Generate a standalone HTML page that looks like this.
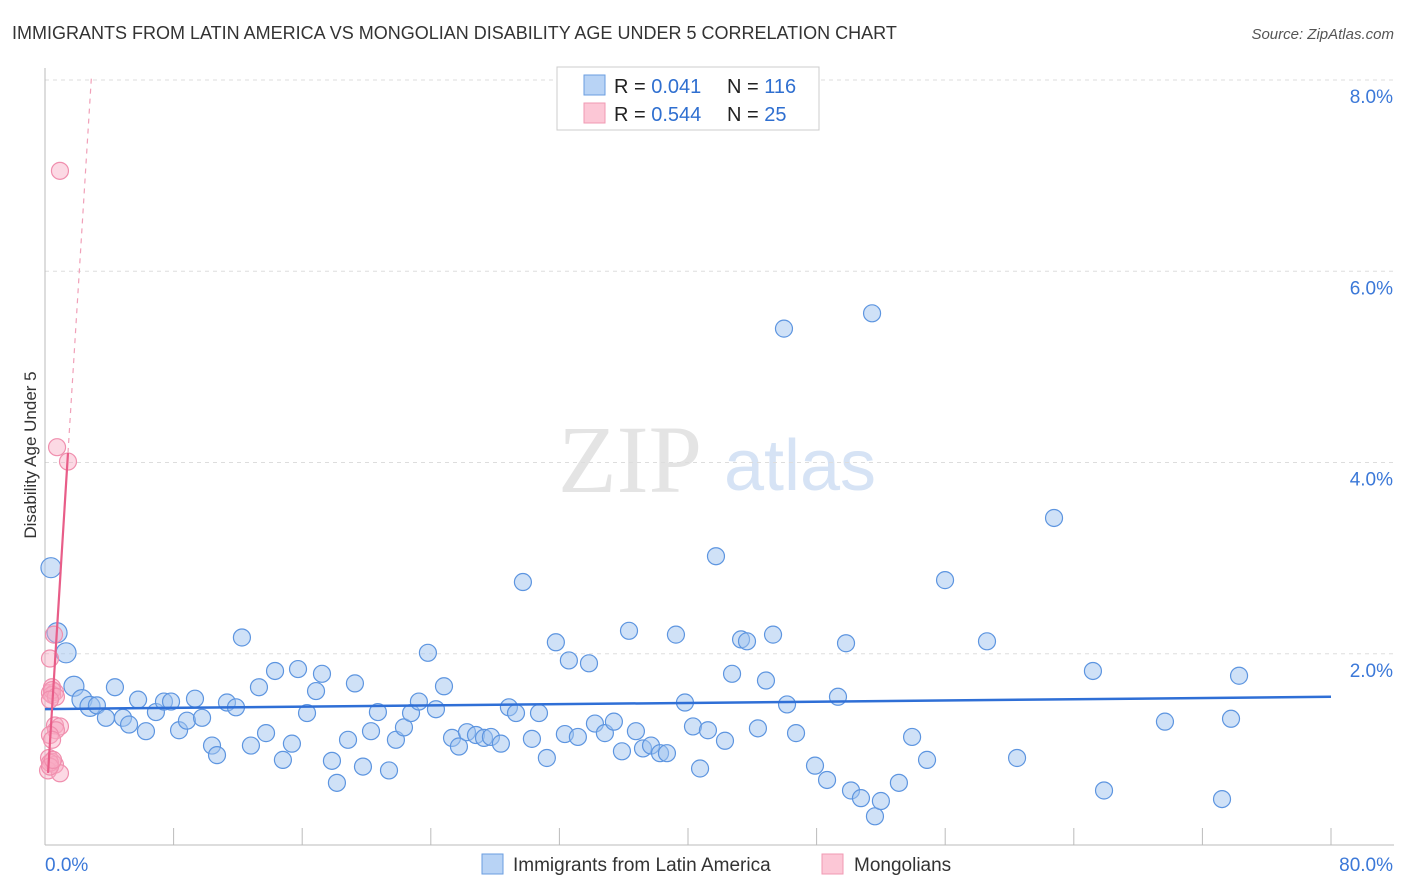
<!DOCTYPE html>
<html><head><meta charset="utf-8"><style>
body{margin:0;background:#fff;font-family:"Liberation Sans",sans-serif;}
#wrap{position:relative;width:1406px;height:892px;overflow:hidden;}
</style></head><body>
<div id="wrap">
<svg id="svg" width="1406" height="892">
<text x="12" y="39" font-size="18" fill="#333">IMMIGRANTS FROM LATIN AMERICA VS MONGOLIAN DISABILITY AGE UNDER 5 CORRELATION CHART</text>
<text x="1394" y="39" font-size="15" fill="#555" font-style="italic" text-anchor="end">Source: ZipAtlas.com</text>
<text x="36" y="455" font-size="17" fill="#333" text-anchor="middle" transform="rotate(-90 36 455)">Disability Age Under 5</text>
<text x="630" y="492" font-size="96" fill="#e4e4e4" font-family="Liberation Serif,serif" text-anchor="middle">ZIP</text>
<text x="800" y="490" font-size="72" fill="#d6e3f5" text-anchor="middle">atlas</text>
<g id="grid"></g><g id="axes"></g><g id="pts"></g><g id="lines"></g>
<g>
<rect x="557" y="67" width="262" height="63" fill="#fff" stroke="#ccc"/>
<rect x="584" y="75" width="21" height="20" fill="#b8d3f5" stroke="#6a9ee0"/>
<rect x="584" y="103" width="21" height="20" fill="#fcc7d6" stroke="#f09ab3"/>
<text x="614" y="93" font-size="20" fill="#222">R = <tspan fill="#2f6fd0"> 0.041</tspan><tspan x="727">N = </tspan><tspan fill="#2f6fd0">116</tspan></text>
<text x="614" y="121" font-size="20" fill="#222">R = <tspan fill="#2f6fd0">0.544</tspan><tspan x="727">N = </tspan><tspan fill="#2f6fd0"> 25</tspan></text>
</g>
<g>
<rect x="482" y="854" width="21" height="20" fill="#b8d3f5" stroke="#6a9ee0"/>
<text x="513" y="871" font-size="19" fill="#333">Immigrants from Latin America</text>
<rect x="822" y="854" width="21" height="20" fill="#fcc7d6" stroke="#f09ab3"/>
<text x="854" y="871" font-size="19" fill="#333">Mongolians</text>
</g>
</svg>
</div>
<script>
const yTicks=[2,4,6,8];
const yTickLabels=["2.0%","4.0%","6.0%","8.0%"];
const xTickLabels=["0.0%","80.0%"];
const blueX=[0.37,0.75,1.31,1.80,2.30,2.80,3.23,3.79,4.35,4.85,5.23,5.79,6.28,6.90,7.40,7.84,8.34,8.83,9.33,9.77,10.39,10.70,11.32,11.88,12.25,12.81,13.31,13.75,14.31,14.80,15.36,15.74,16.30,16.86,17.23,17.85,18.16,18.85,19.28,19.78,20.28,20.71,21.40,21.83,22.33,22.77,23.26,23.82,24.32,24.82,25.32,25.75,26.25,26.81,27.31,27.74,28.36,28.86,29.30,29.73,30.29,30.73,31.22,31.78,32.34,32.59,33.15,33.84,34.21,34.83,35.39,35.89,36.33,36.76,37.20,37.70,38.26,38.69,39.25,39.81,40.31,40.75,41.24,41.74,42.30,42.74,43.30,43.67,44.35,44.85,45.29,46.16,46.72,45.97,47.90,48.65,49.33,49.83,50.14,50.76,51.45,51.63,52.00,53.12,53.94,54.87,55.99,58.60,60.47,62.77,65.19,65.88,69.67,73.22,73.78,74.28];
const blueY=[2.90,2.22,2.01,1.66,1.52,1.45,1.46,1.33,1.65,1.33,1.26,1.52,1.19,1.39,1.50,1.50,1.20,1.30,1.53,1.33,1.04,0.94,1.49,1.44,2.17,1.04,1.65,1.17,1.82,0.89,1.06,1.84,1.38,1.61,1.79,0.88,0.65,1.10,1.69,0.82,1.19,1.39,0.78,1.10,1.23,1.38,1.50,2.01,1.42,1.66,1.12,1.03,1.18,1.15,1.12,1.13,1.06,1.44,1.38,2.75,1.11,1.38,0.91,2.12,1.16,1.93,1.13,1.90,1.27,1.17,1.29,0.98,2.24,1.19,1.01,1.04,0.96,0.96,2.20,1.49,1.24,0.80,1.20,3.02,1.09,1.79,2.15,2.13,1.22,1.72,2.20,1.47,1.17,5.40,0.83,0.68,1.55,2.11,0.57,0.49,5.56,0.30,0.46,0.65,1.13,0.89,2.77,2.13,0.91,3.42,1.82,0.57,1.29,0.48,1.32,1.77];
const pinkX=[0.93,0.75,1.43,0.56,0.31,0.31,0.62,0.44,0.44,0.62,0.93,0.68,0.31,0.44,0.25,0.44,0.62,0.19,0.93,0.31,0.31,0.50,0.44,0.68,0.31];
const pinkY=[7.05,4.16,4.01,2.20,1.95,1.59,1.60,1.65,1.57,1.25,1.24,1.20,1.15,1.10,0.91,0.87,0.84,0.78,0.75,0.86,0.82,0.89,1.62,1.55,1.52];
const X0=45,X1=1331,YB=845,YT8=80;
const sx=v=>X0+(v/80)*(X1-X0);
const sy=v=>YB-(v/8)*(YB-YT8);
const NS="http://www.w3.org/2000/svg";
function mk(tag,attrs,parent){const e=document.createElementNS(NS,tag);for(const k in attrs)e.setAttribute(k,attrs[k]);document.getElementById(parent).appendChild(e);return e;}
yTicks.forEach((t,i)=>{
 const g=mk('line',{x1:X0,x2:1394,y1:sy(t),y2:sy(t),stroke:'#ddd','stroke-dasharray':'4,4'},'grid');
 
 
 const l=mk('text',{x:1393,y:sy(t)+23,'font-size':19,fill:'#3b78d8','text-anchor':'end'},'grid');
 l.textContent=yTickLabels[i];
 
 
});
const ax=mk('line',{x1:X0,x2:X0,y1:68,y2:YB,stroke:'#bbb'},'axes');


const bx=mk('line',{x1:X0,x2:1394,y1:YB,y2:YB,stroke:'#bbb'},'axes');


for(let i=1;i<=10;i++){const t=mk('line',{x1:sx(i*8),x2:sx(i*8),y1:828,y2:YB,stroke:'#bbb'},'axes');
 
 }
[[0,'start',45],[80,'end',1393]].forEach((d,i)=>{const t=mk('text',{x:d[2],y:871,'font-size':19,fill:'#3b78d8','text-anchor':d[1]},'axes');t.textContent=xTickLabels[i];
 
 });
function reg(xs,ys){const n=xs.length;let mx=0,my=0;for(let i=0;i<n;i++){mx+=xs[i];my+=ys[i];}mx/=n;my/=n;let sxy=0,sxx=0;for(let i=0;i<n;i++){sxy+=(xs[i]-mx)*(ys[i]-my);sxx+=(xs[i]-mx)**2;}const b=sxy/sxx;return [my-b*mx,b];}
blueX.forEach((x,i)=>{const c=mk('circle',{cx:sx(x),cy:sy(blueY[i]),r:x<3?10:8.5,fill:'rgba(160,195,240,0.5)',stroke:'#5d95e0','stroke-width':1.2},'pts');
 
 });
pinkX.forEach((x,i)=>{const c=mk('circle',{cx:sx(x),cy:sy(pinkY[i]),r:8.5,fill:'rgba(248,170,195,0.45)',stroke:'#f08fae','stroke-width':1.2},'pts');
 
 });
const [ba,bb]=reg(blueX,blueY);
const bl=mk('line',{x1:sx(0),y1:sy(ba),x2:sx(80),y2:sy(ba+bb*80),stroke:'#2f6fd6','stroke-width':2.5},'lines');


const [pa,pb]=reg(pinkX,pinkY);
const pxmin=Math.min(...pinkX),pxmax=Math.max(...pinkX);
const pl=mk('line',{x1:sx(pxmin),y1:sy(pa+pb*pxmin),x2:sx(pxmax),y2:sy(pa+pb*pxmax),stroke:'#e85d88','stroke-width':2.2},'lines');


const xTop=(8.05-pa)/pb;
const pd=mk('line',{x1:sx(pxmax),y1:sy(pa+pb*pxmax),x2:sx(xTop),y2:sy(8.05),stroke:'#f0a0b8','stroke-width':1.2,'stroke-dasharray':'5,5'},'lines');


</script>
</body></html>
